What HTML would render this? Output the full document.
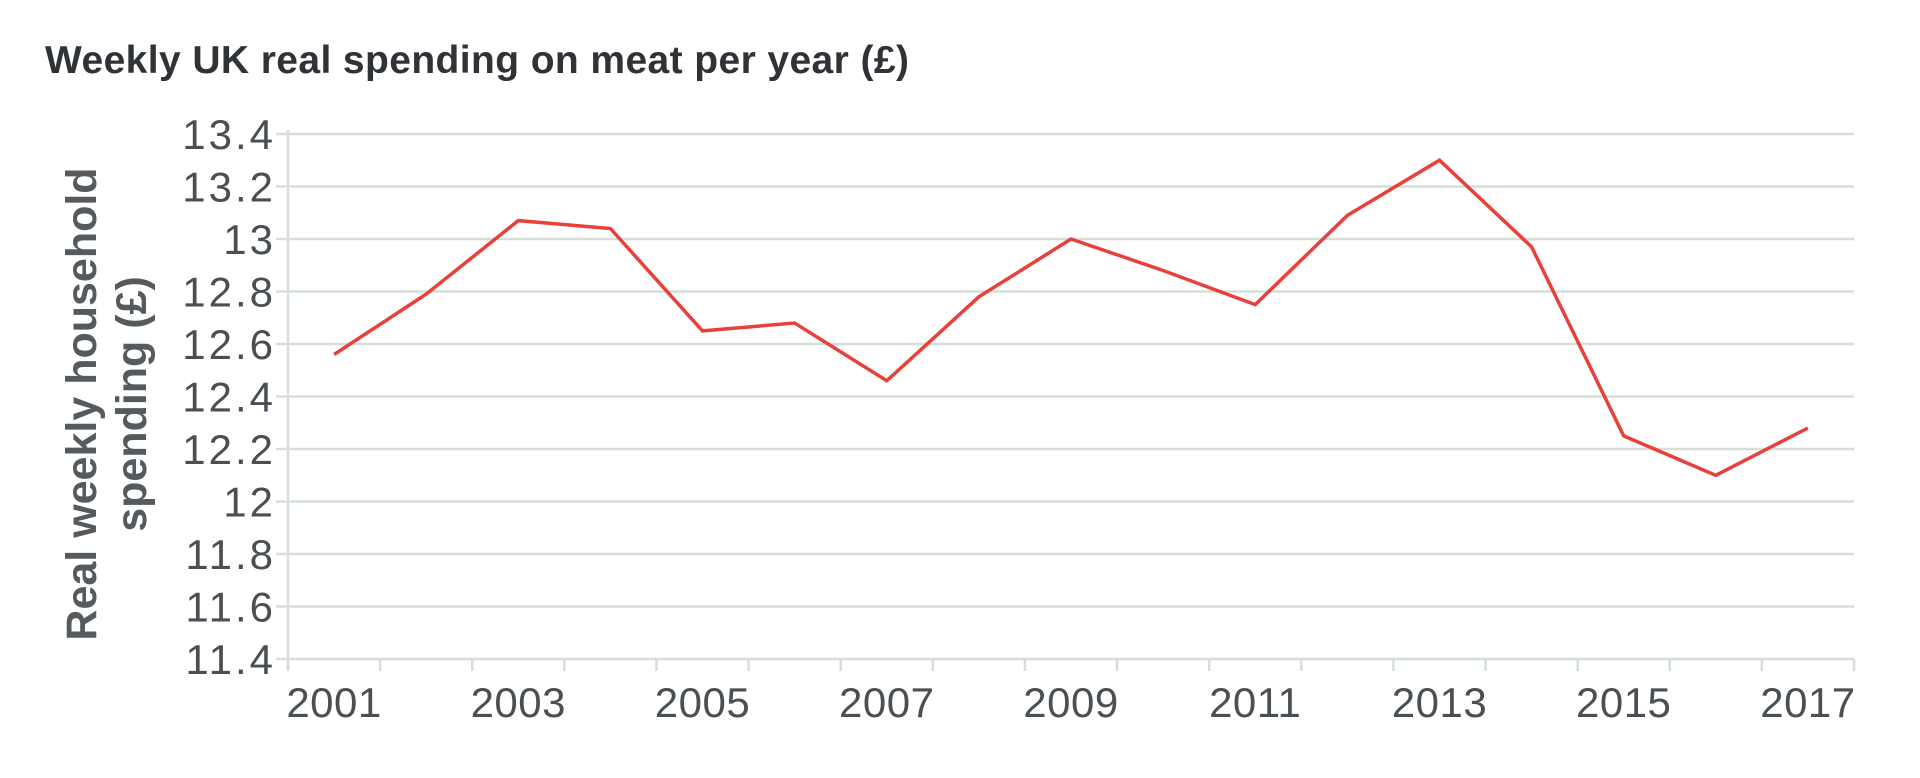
<!DOCTYPE html>
<html><head><meta charset="utf-8"><style>
html,body{margin:0;padding:0;background:#fff;width:1920px;height:778px;overflow:hidden}
svg{display:block;font-family:"Liberation Sans",Arial,sans-serif}
</style></head><body>
<svg id="chart" width="1920" height="778">
<text x="45" y="73" font-size="39" font-weight="bold" letter-spacing="0.4" fill="#2f3337">Weekly UK real spending on meat per year (£)</text>
<g transform="translate(96,404) rotate(-90)">
<text x="0" y="0" text-anchor="middle" font-size="43" font-weight="bold" fill="#555a5e">Real weekly household</text>
<text x="0" y="50" text-anchor="middle" font-size="43" font-weight="bold" fill="#555a5e">spending (£)</text>
</g>
<g id="grid"></g><g id="yticks"></g><g id="xaxis"></g><g id="series"></g>
</svg>
<script>
const years = [2001,2002,2003,2004,2005,2006,2007,2008,2009,2010,2011,2012,2013,2014,2015,2016,2017];
const spending = [12.56,12.79,13.07,13.04,12.65,12.68,12.46,12.78,13.00,12.88,12.75,13.09,13.30,12.97,12.25,12.10,12.28];
const yTicks = [11.4,11.6,11.8,12,12.2,12.4,12.6,12.8,13,13.2,13.4];
const yTickLabels = ["11.4","11.6","11.8","12","12.2","12.4","12.6","12.8","13","13.2","13.4"];
const xLabelYears = [2001,2003,2005,2007,2009,2011,2013,2015,2017];

const NS="http://www.w3.org/2000/svg";
const X0=288,X1=1854,Y0=659,Y1=134,YMIN=11.4,YMAX=13.4;
const band=(X1-X0)/years.length;
function xPos(i){return X0+band*(i+0.5);}
function yPos(v){return Y0-(v-YMIN)/(YMAX-YMIN)*(Y0-Y1);}
function mk(tag,attrs,parent){const e=document.createElementNS(NS,tag);for(const k in attrs)e.setAttribute(k,attrs[k]);parent.appendChild(e);return e;}
const grid=document.getElementById('grid'),yt=document.getElementById('yticks'),xa=document.getElementById('xaxis'),se=document.getElementById('series');
yTicks.forEach((v,i)=>{
  const y=yPos(v);
  const l=mk('line',{x1:X0-12,x2:X1,y1:y,y2:y,stroke:'#d6dfd6','stroke-width':2.5},grid);
  
  
  const t=mk('text',{x:276,y:y+15,'text-anchor':'end','font-size':42,'letter-spacing':3,fill:'#4a4f54'},yt);
  t.textContent=yTickLabels[i];
  
  
});
const ax=mk('line',{x1:X0,x2:X0,y1:Y1-4,y2:Y0+10,stroke:'#d6dfd6','stroke-width':2.5},xa);


for(let i=0;i<=years.length;i++){
  const x=X0+band*i;
  const tk=mk('line',{x1:x,x2:x,y1:Y0,y2:Y0+12,stroke:'#d6dfd6','stroke-width':2.5},xa);
  
  
}
years.forEach((yr,i)=>{
  if(xLabelYears.indexOf(yr)<0)return;
  const t=mk('text',{x:xPos(i),y:717,'text-anchor':'middle','font-size':42,'letter-spacing':0.5,fill:'#4a4f54'},xa);
  t.textContent=String(yr);
  
  
});
const pts=spending.map((v,i)=>xPos(i).toFixed(1)+','+yPos(v).toFixed(1)).join(' ');
const pl=mk('polyline',{points:pts,fill:'none',stroke:'#e8403a','stroke-width':3.5,'stroke-linejoin':'miter'},se);


</script>
</body></html>
